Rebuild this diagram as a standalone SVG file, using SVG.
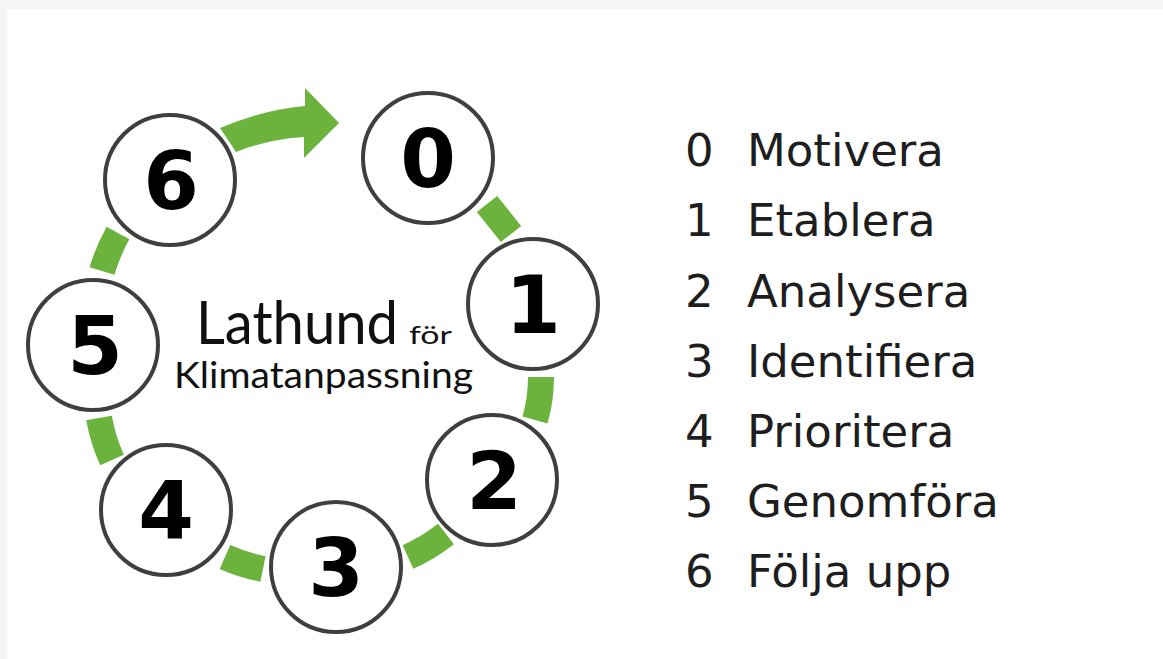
<svg xmlns="http://www.w3.org/2000/svg" width="1163" height="659" viewBox="0 0 1163 659">
<style>
.seg{fill:none;stroke:#6cb33e;stroke-width:26;stroke-linecap:butt}
.ring{fill:#fff;stroke:#3f3f3f;stroke-width:4}
.num{font-family:"DejaVu Sans",sans-serif;font-weight:bold;font-size:80px;fill:#000;text-anchor:middle}
.lst{font-family:"DejaVu Sans",sans-serif;font-size:45px;fill:#1e1e1e}
.ttl{font-family:Lato,"Liberation Sans",sans-serif;font-weight:400;fill:#111}
</style>
<rect x="0" y="0" width="1163" height="659" fill="#f4f5f7"/>
<rect x="7" y="9" width="1156" height="650" fill="#fff"/>
<g id="connectors">
<path class="seg" d="M487 204 L511 234"/>
<path class="seg" d="M541 377 Q541 399 535 420"/>
<path class="seg" d="M446 534 Q428 548 408 557"/>
<path class="seg" d="M263 569 Q243 565 225 557"/>
<path class="seg" d="M112 460 Q103 440 99 418"/>
<path class="seg" d="M102 271 Q108 251 118 233"/>
<path id="arrow60" d="M220 128 Q262 110 305 106 L305 88 L339 123 L304 158 L304 137 Q268 139 236 152 Z" fill="#6cb33e"/>
</g>
<g id="node0"><circle class="ring" cx="428" cy="158" r="65"/><text class="num" x="428" y="187">0</text></g>
<g id="node1"><circle class="ring" cx="533" cy="304" r="65"/><text class="num" x="533" y="333">1</text></g>
<g id="node2"><circle class="ring" cx="492" cy="480" r="65"/><text class="num" x="494" y="509">2</text></g>
<g id="node3"><circle class="ring" cx="336" cy="567" r="65"/><text class="num" x="336" y="596">3</text></g>
<g id="node4"><circle class="ring" cx="166" cy="510" r="65"/><text class="num" x="166" y="539">4</text></g>
<g id="node5"><circle class="ring" cx="93" cy="345" r="65"/><text class="num" x="95" y="374">5</text></g>
<g id="node6"><circle class="ring" cx="170" cy="180" r="65"/><text class="num" x="171" y="209">6</text></g>
<g id="title">
<text class="ttl" x="196" y="344" font-size="60" textLength="202" lengthAdjust="spacingAndGlyphs">Lathund</text>
<text class="ttl" x="409" y="344" font-size="25" textLength="43" lengthAdjust="spacingAndGlyphs">för</text>
<text class="ttl" x="174" y="388" font-size="36" textLength="299" lengthAdjust="spacingAndGlyphs">Klimatanpassning</text>
</g>
<g id="legend">
<text class="lst" x="685" y="166">0</text><text class="lst" x="747" y="166">Motivera</text>
<text class="lst" x="685" y="236">1</text><text class="lst" x="747" y="236">Etablera</text>
<text class="lst" x="685" y="307">2</text><text class="lst" x="747" y="307">Analysera</text>
<text class="lst" x="685" y="377">3</text><text class="lst" x="747" y="377">Identifiera</text>
<text class="lst" x="685" y="447">4</text><text class="lst" x="747" y="447">Prioritera</text>
<text class="lst" x="685" y="517">5</text><text class="lst" x="747" y="517">Genomföra</text>
<text class="lst" x="685" y="587">6</text><text class="lst" x="747" y="587">Följa upp</text>
</g>
</svg>
